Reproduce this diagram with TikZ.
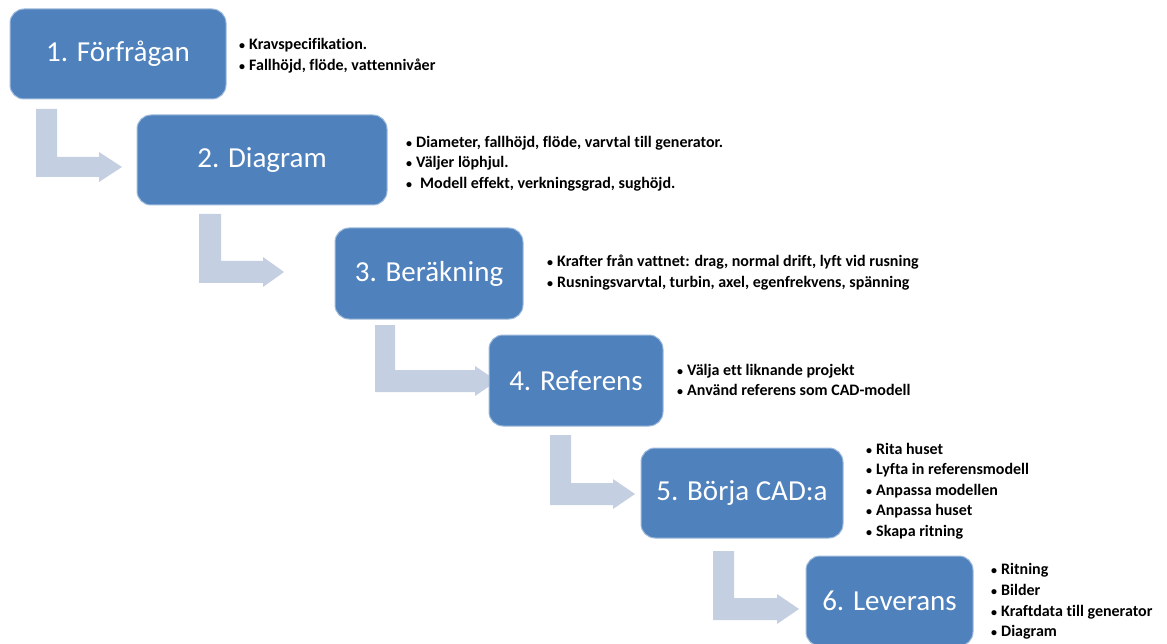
\documentclass[tikz,border=0pt]{standalone}
\usepackage{fontspec}
\setmainfont{Carlito}[Ligatures=NoCommon]
\begin{document}
\begin{tikzpicture}[x=1pt,y=-1pt,
  stepbox/.style={draw=boxedge, line width=1pt, fill=boxblue, rounded corners=14pt,
    text=white, font=\fontsize{29}{32}\selectfont, inner sep=0pt},
  notes/.style={anchor=west, inner sep=0pt, align=left,
    font=\bfseries\fontsize{16}{20.6}\selectfont},
  blockarrow/.style={fill=arrowfill, draw=none}]
\definecolor{boxblue}{RGB}{79,129,189}
\definecolor{boxedge}{RGB}{160,188,220}
\definecolor{arrowfill}{RGB}{196,207,226}
\newcommand\bentarrow[7]{%
  \pgfmathsetmacro\mym{(#4+#5)/2}%
  \fill[arrowfill] (#1,#3) -- (#2,#3) -- (#2,#4) -- (#6,#4) -- (#6,\mym-15) -- (#7,\mym)
    -- (#6,\mym+15) -- (#6,#5) -- (#1,#5) -- cycle;}
\newcommand\bul{\makebox[10pt][l]{\fontsize{12}{12}\selectfont •}}
\useasboundingbox (0,0) rectangle (1167,644);
\clip (0,0) rectangle (1167,644);
% arrows (under boxes)
\bentarrow{36}{57}{109}{157}{177}{99}{122}
\bentarrow{199}{221}{214}{261}{283}{263}{284}
\bentarrow{375}{395}{325}{370}{392}{475}{497}
\bentarrow{550}{571}{435}{483}{505}{613}{635}
\bentarrow{713}{734}{551}{598}{620}{777}{799}
% boxes
\node[stepbox, minimum width=216pt, minimum height=90pt] (b1) at (118,54) {1. Förfrågan};
\node[stepbox, minimum width=250pt, minimum height=90pt] (b2) at (262,160) {2. Diagram};
\node[stepbox, minimum width=188pt, minimum height=91pt] (b3) at (429,273.5) {3. Beräkning};
\node[stepbox, minimum width=174pt, minimum height=91pt] (b4) at (576,380.5) {4. Referens};
\node[stepbox, minimum width=202pt, minimum height=90pt] (b5) at (742,493) {5. Börja CAD:a};
\node[stepbox, minimum width=167pt, minimum height=90pt] (b6) at (889.5,601) {6. Leverans};
% notes
\node[notes] (n1) at (239,55.5) {\bul Kravspecifikation.\\ \bul Fallhöjd, flöde, vattennivåer};
\node[notes] (n2) at (406,163.5) {\bul Diameter, fallhöjd, flöde, varvtal till generator.\\ \bul Väljer löphjul.\\ \bul\hspace{4pt}Modell effekt, verkningsgrad, sughöjd.};
\node[notes] (n3) at (547,272.5) {\bul Krafter från vattnet: drag, normal drift, lyft vid rusning\\ \bul Rusningsvarvtal, turbin, axel, egenfrekvens, spänning};
\node[notes] (n4) at (677,380) {\bul Välja ett liknande projekt\\ \bul Använd referens som CAD-modell};
\node[notes] (n5) at (866,491) {\bul Rita huset\\ \bul Lyfta in referensmodell\\ \bul Anpassa modellen\\ \bul Anpassa huset\\ \bul Skapa ritning};
\node[notes] (n6) at (991,601.5) {\bul Ritning\\ \bul Bilder\\ \bul Kraftdata till generator\\ \bul Diagram};
\end{tikzpicture}
\end{document}
